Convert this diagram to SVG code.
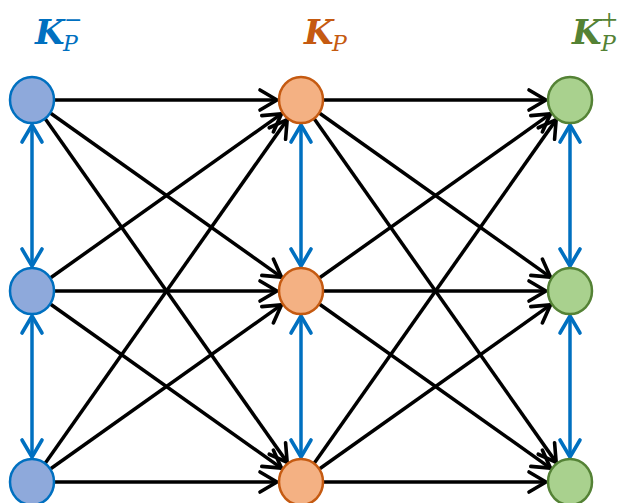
<svg xmlns="http://www.w3.org/2000/svg" width="618" height="503" viewBox="0 0 618 503">
<style>
.k{font-family:"DejaVu Serif","Liberation Serif",serif;font-weight:bold;font-style:italic;font-size:34px}
.s{font-family:"DejaVu Serif","Liberation Serif",serif;font-weight:normal;font-style:italic;font-size:22px}
.e{fill:none;stroke:#000;stroke-width:3.5;marker-end:url(#ah)}
.v{fill:none;stroke:#0070C0;stroke-width:3.5;marker-end:url(#bh);marker-start:url(#bh)}
.nb{fill:#8EA9DB;stroke:#0070C0;stroke-width:2.5}
.no{fill:#F4B183;stroke:#C55A11;stroke-width:2.5}
.ng{fill:#A9D18E;stroke:#548235;stroke-width:2.5}
</style>
<defs>
<marker id="ah" markerUnits="userSpaceOnUse" viewBox="-22 -14 26 28" refX="0" refY="0" markerWidth="26" markerHeight="28" orient="auto">
<path d="M-17,-10 L0,0 L-17,10" fill="none" stroke="#000" stroke-width="3.6" stroke-linejoin="round" stroke-linecap="round"/>
</marker>
<marker id="bh" markerUnits="userSpaceOnUse" viewBox="-22 -14 26 28" refX="0" refY="0" markerWidth="26" markerHeight="28" orient="auto-start-reverse">
<path d="M-17,-10 L0,0 L-17,10" fill="none" stroke="#0070C0" stroke-width="3.6" stroke-linejoin="round" stroke-linecap="round"/>
</marker>
</defs>
<g id="labels">
<text x="35" y="44" class="k" fill="#0070C0">K</text>
<text x="63" y="51" class="s" fill="#0070C0">P</text>
<text x="64" y="27" class="s" fill="#0070C0" font-size="20px">−</text>
<text x="304" y="44" class="k" fill="#C55A11">K</text>
<text x="332" y="51" class="s" fill="#C55A11">P</text>
<text x="572" y="44" class="k" fill="#548235">K</text>
<text x="601" y="51" class="s" fill="#548235">P</text>
<text x="600" y="27" class="s" fill="#548235" font-size="24px">+</text>
</g>
<g id="connectors">
<path class="e" d="M54,100 L277,100"/>
<path class="e" d="M49.94,112.74 L281.43,277.10"/>
<path class="e" d="M44.67,117.99 L287.18,462.38"/>
<path class="e" d="M49.94,278.26 L281.43,113.90"/>
<path class="e" d="M54,291 L277,291"/>
<path class="e" d="M49.94,303.74 L281.43,468.10"/>
<path class="e" d="M44.67,464.01 L287.18,119.62"/>
<path class="e" d="M49.94,469.26 L281.43,304.90"/>
<path class="e" d="M54,482 L277,482"/>
<path class="e" d="M323,100 L546,100"/>
<path class="e" d="M318.94,112.74 L550.43,277.10"/>
<path class="e" d="M313.67,117.99 L556.18,462.38"/>
<path class="e" d="M318.94,278.26 L550.43,113.90"/>
<path class="e" d="M323,291 L546,291"/>
<path class="e" d="M318.94,303.74 L550.43,468.10"/>
<path class="e" d="M313.67,464.01 L556.18,119.62"/>
<path class="e" d="M318.94,469.26 L550.43,304.90"/>
<path class="e" d="M323,482 L546,482"/>
<path class="v" d="M32,125 L32,266"/>
<path class="v" d="M32,316 L32,457"/>
<path class="v" d="M301,125 L301,266"/>
<path class="v" d="M301,316 L301,457"/>
<path class="v" d="M570,125 L570,266"/>
<path class="v" d="M570,316 L570,457"/>
</g>
<g id="n-minus-1"><ellipse class="nb" cx="32" cy="100" rx="22" ry="23"/></g>
<g id="n-minus-2"><ellipse class="nb" cx="32" cy="291" rx="22" ry="23"/></g>
<g id="n-minus-3"><ellipse class="nb" cx="32" cy="482" rx="22" ry="23"/></g>
<g id="n-p-1"><ellipse class="no" cx="301" cy="100" rx="22" ry="23"/></g>
<g id="n-p-2"><ellipse class="no" cx="301" cy="291" rx="22" ry="23"/></g>
<g id="n-p-3"><ellipse class="no" cx="301" cy="482" rx="22" ry="23"/></g>
<g id="n-plus-1"><ellipse class="ng" cx="570" cy="100" rx="22" ry="23"/></g>
<g id="n-plus-2"><ellipse class="ng" cx="570" cy="291" rx="22" ry="23"/></g>
<g id="n-plus-3"><ellipse class="ng" cx="570" cy="482" rx="22" ry="23"/></g>
</svg>
